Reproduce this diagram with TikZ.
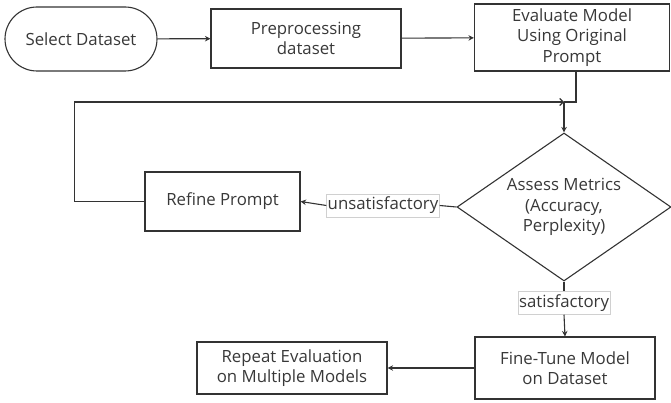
\documentclass[tikz,border=0pt]{standalone}
\usepackage{fontspec}
\setmainfont{Open Sans}
\usetikzlibrary{shapes.geometric,arrows.meta}
\definecolor{ln}{HTML}{333333}
\definecolor{tx}{HTML}{383838}
\definecolor{lb}{HTML}{D0D0D0}
\begin{document}
\begin{tikzpicture}[x=1pt,y=-1pt,
  every node/.style={font=\fontsize{16.8}{20.5}\selectfont,text=tx,align=center,inner sep=0pt},
  procbox/.style={draw=ln,line width=1.1pt,rectangle},
  lbl/.style={draw=lb,fill=white,line width=0.6pt,inner xsep=1pt,inner ysep=3pt},
  conn/.style={draw=ln,line width=1.1pt},
  arr/.style={conn,-{Stealth[length=5.5pt,width=5.5pt]}},
  chev/.style={conn,-{Straight Barb[length=3.5pt,width=7pt]}}]
\useasboundingbox (0,0) rectangle (671,403);
\node[procbox,rounded corners=32pt,minimum width=152pt,minimum height=64pt] (sel) at (81,39) {Select Dataset};
\node[procbox,minimum width=190pt,minimum height=59pt] (pre) at (306,38.5) {Preprocessing\\dataset};
\node[procbox,minimum width=195pt,minimum height=67pt] (eva) at (572,37.5) {Evaluate Model\\Using Original\\Prompt};
\node[procbox,minimum width=155pt,minimum height=59pt] (ref) at (222.5,201.5) {Refine Prompt};
\node[draw=ln,line width=1.1pt,diamond,shape aspect=1.45,minimum width=214pt,minimum height=148pt] (dia) at (564,207) {Assess Metrics\\(Accuracy,\\Perplexity)};
\node[procbox,minimum width=180pt,minimum height=62pt] (fin) at (565,368) {Fine-Tune Model\\on Dataset};
\node[procbox,minimum width=190pt,minimum height=52pt] (rep) at (292,368) {Repeat Evaluation\\on Multiple Models};
\node[lbl] (uns) at (383,205.5) {unsatisfactory};
\node[lbl] (sat) at (564,303) {satisfactory};
\coordinate (J) at (564,102);
\coordinate (E) at (576,102);
\draw[arr] (sel) -- (pre);
\draw[arr] (pre) -- (eva);
\draw[conn] (eva.south -| E) -- (E) -- (J);
\draw[chev] (ref.west) -- ++(-70,0) |- (J);
\draw[arr] (J) -- (dia.north);
\draw[conn] (dia.west) -- (uns.east);
\draw[arr] (uns.west) -- (ref.east);
\draw[conn] (dia.south) -- (sat.north);
\draw[arr] (sat.south) -- (fin.north);
\draw[arr] (fin.west) -- (rep.east);
\end{tikzpicture}
\end{document}
